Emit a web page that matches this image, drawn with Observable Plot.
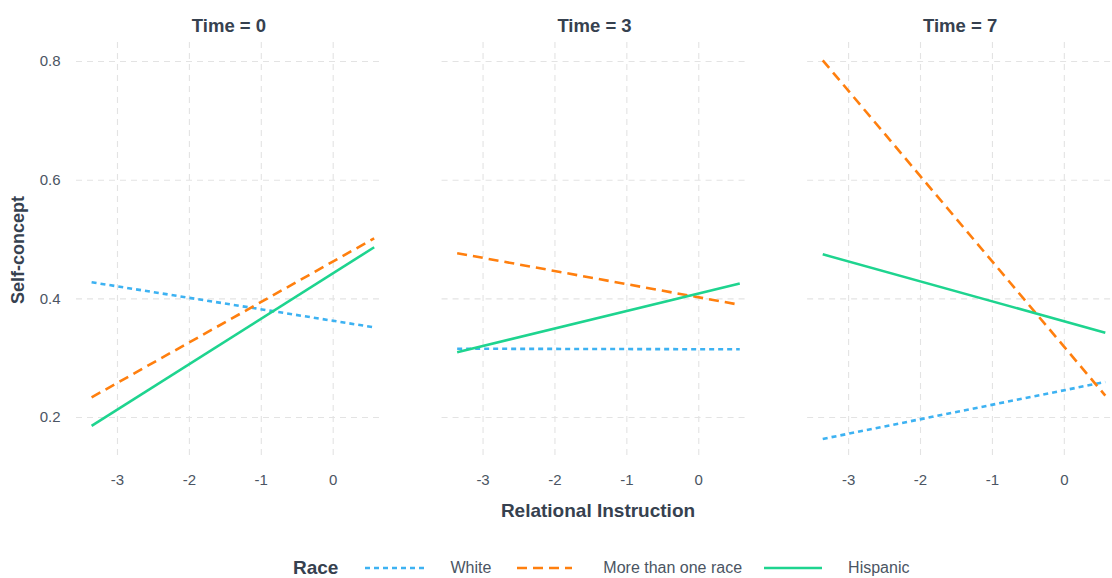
<!DOCTYPE html>
<html>
<head>
<meta charset="utf-8">
<script src="https://cdn.jsdelivr.net/npm/d3@7"></script>
<script src="https://cdn.jsdelivr.net/npm/@observablehq/plot@0.6"></script>
<style>
  html, body { margin: 0; padding: 0; background: #fff; overflow: hidden; }
  #wrap { position: relative; width: 1112px; height: 578px; font-family: "Liberation Sans", Arial, sans-serif; }
  #legend { position: absolute; left: 0; top: 555px; width: 1112px; height: 26px; display: flex; align-items: center; padding-left: 293px; box-sizing: border-box; }
  #legend .title { font-weight: bold; font-size: 19px; color: #36414f; margin-right: 27px; }
  #legend .lab { font-size: 16px; color: #4b5563; }
  #legend svg { display: block; }
</style>
</head>
<body>
<div id="wrap">
  <div id="chart"></div>
  <div id="legend"></div>
</div>
<script>
// ---- data ----
const times = ["Time = 0", "Time = 3", "Time = 7"];
const races = ["White", "More than one race", "Hispanic"];
const instruction = [-3.36, 0.57]; // x range of fitted lines
const whiteVals    = [[0.428, 0.352], [0.316, 0.315], [0.164, 0.260]];
const multiVals    = [[0.234, 0.502], [0.477, 0.390], [0.802, 0.237]];
const hispanicVals = [[0.186, 0.487], [0.310, 0.426], [0.475, 0.343]];
const xTicks = [-3, -2, -1, 0];
const yTicks = [0.2, 0.4, 0.6, 0.8];

const colors = {"White": "#3db2f2", "More than one race": "#ff7f0e", "Hispanic": "#1ed48f"};
const dashes = {"White": "5,4", "More than one race": "10,6", "Hispanic": null};

const seriesVals = {"White": whiteVals, "More than one race": multiVals, "Hispanic": hispanicVals};
const rows = [];
for (const race of races) {
  times.forEach((t, ti) => {
    instruction.forEach((x, xi) => {
      rows.push({race, time: t, x, y: seriesVals[race][ti][xi]});
    });
  });
}

const lineMarks = races.map(r => Plot.line(rows.filter(d => d.race === r), {
  x: "x", y: "y", fx: "time",
  stroke: colors[r], strokeWidth: 2.6,
  strokeDasharray: dashes[r] || undefined,
  strokeLinecap: "butt"
}));

const chart = Plot.plot({
  width: 1112,
  height: 530,
  marginLeft: 76,
  marginRight: 0,
  marginTop: 42,
  marginBottom: 72,
  style: {fontFamily: "'Liberation Sans', Arial, sans-serif", background: "white"},
  fx: {domain: times, paddingInner: 0.166, paddingOuter: 0, round: false, label: null},
  x: {domain: [-3.57, 0.67], label: null},
  y: {domain: [0.131, 0.832], label: null},
  marks: [
    Plot.gridX(xTicks, {stroke: "#e3e3e3", strokeOpacity: 1, strokeWidth: 1.1, strokeDasharray: "6,5"}),
    Plot.gridY(yTicks, {stroke: "#e3e3e3", strokeOpacity: 1, strokeWidth: 1.1, strokeDasharray: "6,5"}),
    Plot.axisX(xTicks, {tickSize: 0, tickPadding: 16, fontSize: 15, fill: "#4b5563", label: null, tickFormat: d => d < 0 ? "-" + Math.abs(d) : String(d)}),
    Plot.axisY(yTicks, {tickSize: 0, tickPadding: 16, fontSize: 15, fill: "#4b5563", label: null, tickFormat: d3.format(".1f")}),
    Plot.axisFx({anchor: "top", tickSize: 0, tickPadding: 11, fontSize: 18.5, fontWeight: "bold", fill: "#36414f", label: null}),
    ...lineMarks
  ]
});
document.getElementById("chart").appendChild(chart);

// axis titles
const svg = d3.select(chart);
svg.append("text")
  .attr("x", 598).attr("y", 517)
  .attr("text-anchor", "middle")
  .attr("font-size", 19).attr("font-weight", "bold").attr("fill", "#36414f")
  .text("Relational Instruction");
svg.append("text")
  .attr("transform", "translate(24,250) rotate(-90)")
  .attr("text-anchor", "middle")
  .attr("font-size", 18).attr("font-weight", "bold").attr("fill", "#36414f")
  .text("Self-concept");

// legend
const legend = d3.select("#legend");
legend.append("span").attr("class", "title").text("Race");
const keyWidths = {"White": 60, "More than one race": 55, "Hispanic": 58};
const gapAfterKey = {"White": 25, "More than one race": 31, "Hispanic": 26};
const gapAfterLab = {"White": 26, "More than one race": 22, "Hispanic": 0};
for (const r of races) {
  const k = legend.append("svg").attr("width", keyWidths[r]).attr("height", 10)
    .style("margin-right", gapAfterKey[r] + "px");
  k.append("line").attr("x1", 0).attr("x2", keyWidths[r]).attr("y1", 5).attr("y2", 5)
    .attr("stroke", colors[r]).attr("stroke-width", 2.6)
    .attr("stroke-dasharray", dashes[r] || null);
  legend.append("span").attr("class", "lab").style("margin-right", gapAfterLab[r] + "px").text(r);
}
</script>
</body>
</html>
